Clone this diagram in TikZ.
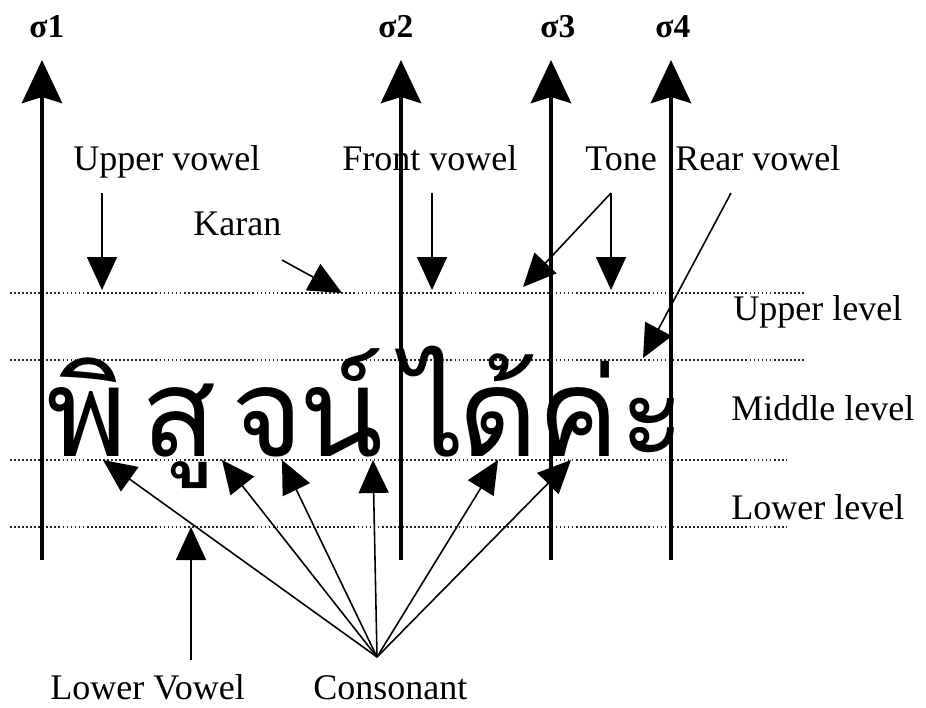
\documentclass[tikz,border=0pt]{standalone}
\usepackage{fontspec}
\setmainfont{Liberation Serif}
\newfontfamily\thaifont[Script=Thai]{Loma}
\usetikzlibrary{arrows.meta, positioning}

\begin{document}
\begin{tikzpicture}[x=0.02cm, y=-0.02cm,
    word/.style={inner sep=0pt, anchor=base west, font=\fontsize{20.5}{24}\selectfont},
    sigma/.style={inner sep=0pt, anchor=base west, font=\fontsize{19}{22}\selectfont\bfseries},
    glyph/.style={inner sep=0pt, anchor=base west, font=\fontsize{70}{76}\thaifont},
    axis/.style={line width=2.8pt, -{Stealth[length=0.86cm, width=0.8cm, inset=0.12cm]}},
    pointer/.style={line width=0.9pt, -{Triangle[length=0.66cm, width=0.6cm]}},
    level/.style={line width=1pt, black!85, dash pattern=on 1pt off 1.3pt}]
    \useasboundingbox (0,0) rectangle (926,707);

    % guide lines of the four levels
    \draw[level] (10,293) -- (805,293);
    \draw[level] (10,360) -- (805,360);
    \draw[level] (10,460) -- (786,460);
    \draw[level] (10,527) -- (786,527);

    % the word, one node per character cell
    \node (c1) [glyph] at (46,456) {พิ};
    \node (c2) [glyph] at (141,456) {สู};
    \node (c3) [glyph] at (231,456) {จ};
    \node (c4) [glyph] at (299,456) {น์};
    \node (c5) [glyph] at (403,456) {ไ};
    \node (c6) [glyph] at (458,456) {ด้};
    \node (c7) [glyph] at (537,456) {ค่};
    \node (c8) [glyph] at (619,456) {ะ};

    % syllable boundaries
    \foreach \i/\x in {1/42, 2/401, 3/551, 4/671} {
        \coordinate (s\i b) at (\x,560);
        \coordinate (s\i t) at (\x,60);
        \draw[axis] (s\i b) -- (s\i t);
    }
    \node (sig1) [sigma] at (29,37) {σ1};
    \node (sig2) [sigma] at (378,37) {σ2};
    \node (sig3) [sigma] at (540,37) {σ3};
    \node (sig4) [sigma] at (655,37) {σ4};

    % labels above
    \node (upv) [word] at (73,170) {Upper vowel};
    \node (karan) [word] at (193,235) {Karan};
    \node (frv) [word] at (342,170) {Front vowel};
    \node (tone) [word] at (585,170) {Tone};
    \node (rev) [word] at (675,170) {Rear vowel};

    % labels on the right
    \node (uplev) [word] at (733,320) {Upper level};
    \node (midlev) [word] at (731,420) {Middle level};
    \node (lowlev) [word] at (731,519) {Lower level};

    % labels below
    \node (lowv) [word] at (50,699) {Lower Vowel};
    \node (cons) [word] at (313,699) {Consonant};

    % ends of the pointers
    \coordinate (upv s) at (102,193);
    \coordinate (upv e) at (102,290);
    \coordinate (karan s) at (282,260);
    \coordinate (karan e) at (342,293);
    \coordinate (frv s) at (432,193);
    \coordinate (frv e) at (432,290);
    \coordinate (tone s) at (611,193);
    \coordinate (tone e1) at (523,287);
    \coordinate (tone e2) at (611,290);
    \coordinate (rev s) at (731,193);
    \coordinate (rev e) at (643,358);
    \coordinate (lowv s) at (191,660);
    \coordinate (lowv e) at (191,527);
    \coordinate (cons s) at (377,657);

    \draw[pointer] (upv s) -- (upv e);
    \draw[pointer] (karan s) -- (karan e);
    \draw[pointer] (frv s) -- (frv e);
    \draw[pointer] (tone s) -- (tone e1);
    \draw[pointer] (tone s) -- (tone e2);
    \draw[pointer] (rev s) -- (rev e);
    \draw[pointer] (lowv s) -- (lowv e);
    \foreach \x in {103, 222, 282, 373, 498, 571} {
        \coordinate (cons e\x) at (\x,460);
        \draw[pointer] (cons s) -- (cons e\x);
    }
\end{tikzpicture}
\end{document}
